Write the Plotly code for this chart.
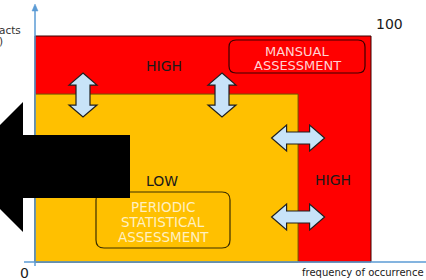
import plotly.graph_objects as go

# ---- diagram values (axis units: 0..100 on both axes) ----
AXIS_TICKS = [0, 100]
AXIS_TICK_LABELS = ["0", "100"]
X_TITLE = "frequency of occurrence"
Y_TITLE_LINES = ["Impacts", "(%)"]
FREQ_THRESHOLD = 78.3      # boundary of the LOW zone along x
IMPACT_THRESHOLD = 74.3    # boundary of the LOW zone along y
ZONE_LABELS = ["HIGH", "LOW", "HIGH"]
MANUAL_LINES = ["MANSUAL", "ASSESSMENT"]
PERIODIC_LINES = ["PERIODIC", "STATISTICAL", "ASSESSMENT"]

# ---- pixel mapping (layout) ----
W, H = 426, 280
X0_PX, SX = 35.0, 3.36     # px of x=0, px per unit
Y0_PY, SY = 262.0, 2.26    # py of y=0, px per unit


def fx(px):
    return (px - X0_PX) / SX


def fy(py):
    return (Y0_PY - py) / SY


def tox(x):
    return X0_PX + x * SX


def toy(y):
    return Y0_PY - y * SY


def path_px(points):
    return "M " + " L ".join(f"{fx(a):.3f},{fy(b):.3f}" for a, b in points) + " Z"


def rounded_px(x0, y0, x1, y1, r):
    def p(a, b):
        return f"{fx(a):.3f},{fy(b):.3f}"
    return (f"M {p(x0 + r, y0)} L {p(x1 - r, y0)} Q {p(x1, y0)} {p(x1, y0 + r)} "
            f"L {p(x1, y1 - r)} Q {p(x1, y1)} {p(x1 - r, y1)} "
            f"L {p(x0 + r, y1)} Q {p(x0, y1)} {p(x0, y1 - r)} "
            f"L {p(x0, y0 + r)} Q {p(x0, y0)} {p(x0 + r, y0)} Z")


def v_double_arrow(cx, cy, L=44, HW=28, HL=12, SW=14):
    t, b = cy - L / 2, cy + L / 2
    pts = [(cx, t), (cx + HW / 2, t + HL), (cx + SW / 2, t + HL), (cx + SW / 2, b - HL),
           (cx + HW / 2, b - HL), (cx, b), (cx - HW / 2, b - HL), (cx - SW / 2, b - HL),
           (cx - SW / 2, t + HL), (cx - HW / 2, t + HL)]
    return path_px(pts)


def h_double_arrow(cx, cy, L=53, HW=26, HL=15, SW=12):
    l, r = cx - L / 2, cx + L / 2
    pts = [(l, cy), (l + HL, cy - HW / 2), (l + HL, cy - SW / 2), (r - HL, cy - SW / 2),
           (r - HL, cy - HW / 2), (r, cy), (r - HL, cy + HW / 2), (r - HL, cy + SW / 2),
           (l + HL, cy + SW / 2), (l + HL, cy + HW / 2)]
    return path_px(pts)


RED = "#ff0000"
YEL = "#ffc000"
LBLUE = "#c8e3f8"
AXC = "#5b9bd5"
FONT = "DejaVu Sans"

fig = go.Figure()
shapes = []

# zones
shapes.append(dict(type="rect", xref="x", yref="y", x0=AXIS_TICKS[0], y0=AXIS_TICKS[0],
                   x1=AXIS_TICKS[1], y1=AXIS_TICKS[1], fillcolor=RED,
                   line=dict(color="#3a0000", width=1)))
shapes.append(dict(type="rect", xref="x", yref="y", x0=AXIS_TICKS[0], y0=AXIS_TICKS[0],
                   x1=FREQ_THRESHOLD, y1=IMPACT_THRESHOLD, fillcolor=YEL,
                   line=dict(color="#6b5300", width=1)))

# rounded boxes
shapes.append(dict(type="path", xref="x", yref="y", path=rounded_px(229, 40, 365, 73, 7),
                   fillcolor="rgba(0,0,0,0)", line=dict(color="#3a0000", width=1.2)))
shapes.append(dict(type="path", xref="x", yref="y", path=rounded_px(96, 192, 230, 248, 8),
                   fillcolor="rgba(0,0,0,0)", line=dict(color="#3b2e00", width=1.2)))

# axes
shapes.append(dict(type="line", xref="x", yref="y", x0=fx(24), y0=0, x1=fx(430), y1=0,
                   line=dict(color=AXC, width=1.5)))
shapes.append(dict(type="line", xref="x", yref="y", x0=0, y0=fy(266), x1=0, y1=fy(10),
                   line=dict(color=AXC, width=1.5)))
shapes.append(dict(type="path", xref="x", yref="y",
                   path=path_px([(35, 4), (38, 11), (32, 11)]),
                   fillcolor=AXC, line=dict(color=AXC, width=0.5)))

# double arrows across the zone boundaries
by = toy(IMPACT_THRESHOLD)
bx = tox(FREQ_THRESHOLD)
for cx in (83, 222):
    shapes.append(dict(type="path", xref="x", yref="y", path=v_double_arrow(cx, by + 1),
                       fillcolor=LBLUE, line=dict(color="#1f1f1f", width=1.2)))
for cy in (138, 217):
    shapes.append(dict(type="path", xref="x", yref="y", path=h_double_arrow(bx, cy),
                       fillcolor=LBLUE, line=dict(color="#1f1f1f", width=1.2)))

# big black arrow
shapes.append(dict(type="path", xref="x", yref="y",
                   path=path_px([(-42, 167), (23, 102), (23, 135), (130, 135),
                                 (130, 198), (23, 198), (23, 232)]),
                   fillcolor="#000000", line=dict(width=0)))

ann = []


def txt(text, px, py, size, color, xanchor="center"):
    ann.append(dict(text=text, x=fx(px), y=fy(py), xref="x", yref="y", showarrow=False,
                    xanchor=xanchor, yanchor="middle", borderpad=0,
                    font=dict(family=FONT, size=size, color=color)))


txt(ZONE_LABELS[0], 164, 66, 14, "#1a1a1a")
txt(ZONE_LABELS[1], 162, 181, 14, "#1a1a1a")
txt(ZONE_LABELS[2], 333, 180, 14, "#1a1a1a")
for i, s in enumerate(MANUAL_LINES):
    txt(s, 297, 51 + 14.5 * i, 13, "#ffd2d2")
for i, s in enumerate(PERIODIC_LINES):
    txt(s, 163, 207 + 15 * i, 13.5, "#fff0c0")
txt(AXIS_TICK_LABELS[1], 389, 24, 14, "#1a1a1a")
txt(AXIS_TICK_LABELS[0], 24, 273, 14, "#1a1a1a")
txt(X_TITLE, 425, 272, 10, "#1a1a1a", xanchor="right")
txt(Y_TITLE_LINES[0], 22, 30, 10.5, "#333333", xanchor="right")
txt(Y_TITLE_LINES[1], 4, 41, 10.5, "#333333", xanchor="right")

fig.update_layout(
    width=W, height=H, margin=dict(l=0, r=0, t=0, b=0),
    paper_bgcolor="white", plot_bgcolor="white",
    xaxis=dict(range=[fx(0), fx(W)], visible=False, fixedrange=True),
    yaxis=dict(range=[fy(H), fy(0)], visible=False, fixedrange=True),
    shapes=shapes, annotations=ann, showlegend=False,
)

fig.write_html("out.html", config={"displayModeBar": False},
               post_script="document.body.style.margin='0';document.body.style.overflow='hidden';")
